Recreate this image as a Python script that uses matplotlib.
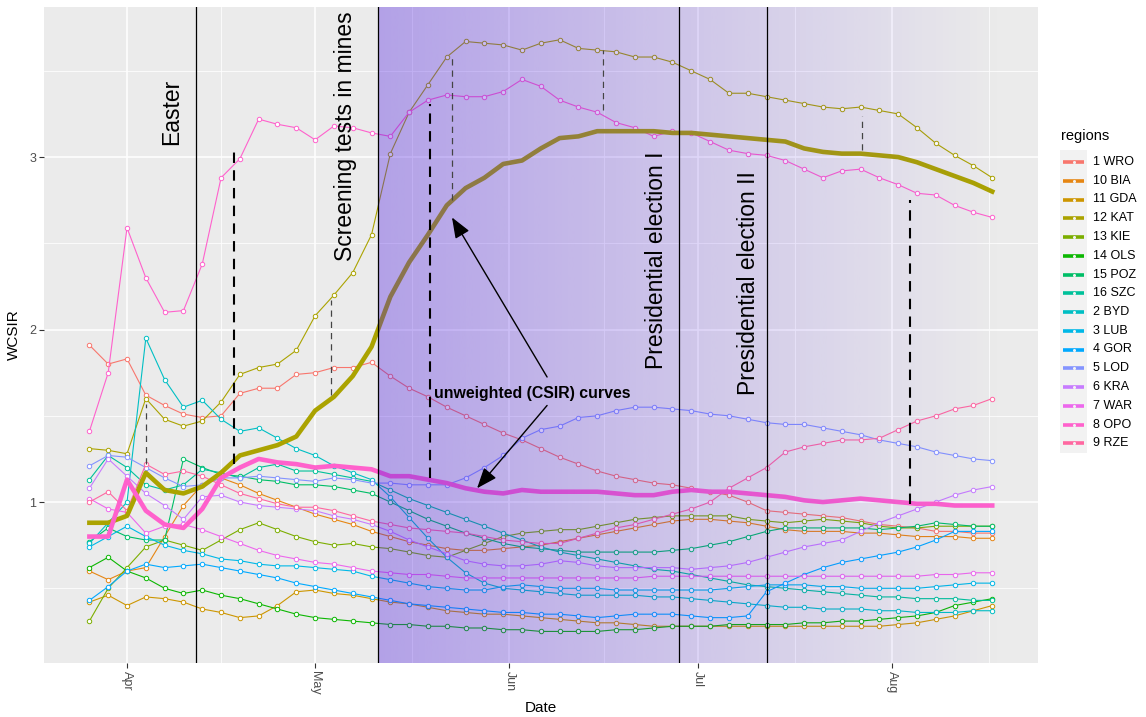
#!/usr/bin/env python3
# WCSIR per region, with the unweighted (CSIR) curves of KAT and OPO
import numpy as np
import pandas as pd
import matplotlib
matplotlib.use('Agg')
import matplotlib.pyplot as plt
import matplotlib.dates as mdates
from matplotlib.patches import Rectangle

plt.rcParams['font.family'] = ['Liberation Sans', 'DejaVu Sans']

# every third day, 26 Mar - 17 Aug 2020
dates = pd.date_range('2020-03-26', '2020-08-17', freq='3D')

WRO = [1.91, 1.80, 1.83, 1.62, 1.56, 1.51, 1.49, 1.50, 1.63, 1.66,
       1.66, 1.74, 1.75, 1.78, 1.78, 1.81, 1.73, 1.66, 1.61, 1.55,
       1.50, 1.45, 1.40, 1.36, 1.31, 1.26, 1.22, 1.18, 1.15, 1.13,
       1.11, 1.10, 1.08, 1.06, 1.04, 1.00, 0.95, 0.94, 0.93, 0.92,
       0.91, 0.89, 0.87, 0.86, 0.85, 0.83, 0.83, 0.82, 0.82]
BIA = [0.60, 0.55, 0.60, 0.62, 0.80, 0.98, 1.10, 1.14, 1.10, 1.05,
       1.01, 0.97, 0.93, 0.90, 0.87, 0.83, 0.80, 0.77, 0.75, 0.73,
       0.72, 0.72, 0.73, 0.74, 0.75, 0.77, 0.79, 0.81, 0.83, 0.85,
       0.87, 0.89, 0.90, 0.90, 0.89, 0.88, 0.86, 0.84, 0.83, 0.83,
       0.83, 0.82, 0.82, 0.81, 0.80, 0.80, 0.80, 0.79, 0.79]
GDA = [0.42, 0.46, 0.40, 0.45, 0.44, 0.42, 0.38, 0.36, 0.33, 0.34,
       0.40, 0.48, 0.49, 0.47, 0.46, 0.44, 0.42, 0.41, 0.39, 0.37,
       0.36, 0.35, 0.35, 0.34, 0.33, 0.32, 0.31, 0.30, 0.30, 0.29,
       0.28, 0.28, 0.28, 0.28, 0.28, 0.28, 0.28, 0.28, 0.28, 0.28,
       0.28, 0.28, 0.28, 0.29, 0.30, 0.32, 0.34, 0.37, 0.40]
KAT = [1.31, 1.30, 1.28, 1.60, 1.48, 1.44, 1.47, 1.58, 1.74, 1.78,
       1.80, 1.88, 2.08, 2.20, 2.33, 2.55, 3.02, 3.26, 3.42, 3.58,
       3.67, 3.66, 3.65, 3.62, 3.66, 3.68, 3.63, 3.62, 3.61, 3.58,
       3.58, 3.55, 3.50, 3.45, 3.37, 3.37, 3.35, 3.33, 3.31, 3.29,
       3.28, 3.29, 3.27, 3.25, 3.17, 3.08, 3.01, 2.95, 2.88]
KIE = [0.31, 0.50, 0.62, 0.74, 0.78, 0.75, 0.72, 0.78, 0.84, 0.88,
       0.84, 0.80, 0.77, 0.75, 0.76, 0.74, 0.73, 0.71, 0.69, 0.68,
       0.72, 0.76, 0.80, 0.82, 0.83, 0.84, 0.84, 0.86, 0.88, 0.90,
       0.91, 0.92, 0.92, 0.92, 0.92, 0.90, 0.89, 0.88, 0.89, 0.90,
       0.89, 0.88, 0.86, 0.85, 0.85, 0.86, 0.86, 0.86, 0.86]
OLS = [0.62, 0.68, 0.60, 0.56, 0.50, 0.47, 0.49, 0.46, 0.44, 0.41,
       0.38, 0.35, 0.33, 0.32, 0.31, 0.30, 0.29, 0.29, 0.28, 0.28,
       0.27, 0.27, 0.26, 0.26, 0.25, 0.25, 0.25, 0.25, 0.26, 0.26,
       0.27, 0.28, 0.28, 0.28, 0.29, 0.29, 0.29, 0.29, 0.30, 0.30,
       0.31, 0.31, 0.32, 0.33, 0.34, 0.36, 0.40, 0.42, 0.44]
POZ = [0.77, 0.85, 0.80, 0.78, 0.78, 1.25, 1.20, 1.16, 1.15, 1.13,
       1.12, 1.10, 1.10, 1.09, 1.07, 1.05, 1.00, 0.95, 0.90, 0.86,
       0.82, 0.79, 0.76, 0.74, 0.73, 0.72, 0.71, 0.71, 0.71, 0.71,
       0.71, 0.72, 0.73, 0.75, 0.77, 0.80, 0.83, 0.85, 0.85, 0.85,
       0.85, 0.85, 0.84, 0.85, 0.86, 0.88, 0.87, 0.86, 0.86]
SZC = [1.13, 1.27, 1.20, 1.10, 1.07, 1.10, 1.19, 1.17, 1.14, 1.20,
       1.22, 1.18, 1.18, 1.16, 1.14, 1.12, 1.07, 1.02, 0.98, 0.94,
       0.90, 0.86, 0.82, 0.78, 0.74, 0.71, 0.69, 0.67, 0.65, 0.63,
       0.61, 0.60, 0.58, 0.56, 0.54, 0.52, 0.51, 0.50, 0.49, 0.48,
       0.47, 0.46, 0.45, 0.45, 0.44, 0.44, 0.44, 0.43, 0.43]
BYD = [0.76, 0.88, 1.00, 1.95, 1.71, 1.55, 1.59, 1.48, 1.41, 1.43,
       1.37, 1.31, 1.27, 1.21, 1.17, 1.13, 1.03, 0.91, 0.79, 0.68,
       0.59, 0.53, 0.50, 0.49, 0.48, 0.47, 0.46, 0.46, 0.46, 0.46,
       0.45, 0.45, 0.44, 0.43, 0.42, 0.41, 0.40, 0.39, 0.39, 0.38,
       0.38, 0.38, 0.37, 0.37, 0.36, 0.36, 0.36, 0.37, 0.37]
LUB = [0.74, 0.80, 0.86, 0.80, 0.75, 0.72, 0.70, 0.67, 0.66, 0.64,
       0.63, 0.63, 0.62, 0.61, 0.60, 0.57, 0.55, 0.53, 0.51, 0.50,
       0.49, 0.49, 0.51, 0.52, 0.51, 0.50, 0.50, 0.50, 0.49, 0.49,
       0.49, 0.49, 0.49, 0.49, 0.50, 0.51, 0.52, 0.52, 0.52, 0.51,
       0.51, 0.50, 0.50, 0.50, 0.50, 0.51, 0.52, 0.53, 0.53]
GOR = [0.43, 0.51, 0.60, 0.64, 0.62, 0.63, 0.64, 0.62, 0.60, 0.58,
       0.56, 0.53, 0.51, 0.49, 0.47, 0.45, 0.43, 0.41, 0.40, 0.39,
       0.38, 0.37, 0.36, 0.36, 0.35, 0.35, 0.34, 0.33, 0.34, 0.35,
       0.35, 0.35, 0.34, 0.33, 0.33, 0.34, 0.48, 0.53, 0.58, 0.62,
       0.65, 0.67, 0.69, 0.71, 0.74, 0.78, 0.83, 0.83, 0.83]
LOD = [1.21, 1.27, 1.26, 1.20, 1.14, 1.09, 1.10, 1.14, 1.14, 1.15,
       1.14, 1.13, 1.12, 1.14, 1.13, 1.11, 1.11, 1.10, 1.10, 1.10,
       1.14, 1.20, 1.27, 1.37, 1.42, 1.44, 1.49, 1.50, 1.53, 1.55,
       1.55, 1.54, 1.53, 1.51, 1.50, 1.48, 1.46, 1.45, 1.45, 1.43,
       1.41, 1.39, 1.36, 1.34, 1.32, 1.29, 1.27, 1.25, 1.24]
KRA = [1.08, 1.25, 1.15, 1.05, 0.98, 0.90, 1.03, 1.04, 1.00, 0.98,
       0.97, 0.96, 0.95, 0.92, 0.90, 0.87, 0.83, 0.78, 0.74, 0.70,
       0.66, 0.64, 0.63, 0.63, 0.64, 0.66, 0.65, 0.63, 0.62, 0.62,
       0.62, 0.62, 0.61, 0.62, 0.63, 0.65, 0.68, 0.71, 0.74, 0.76,
       0.78, 0.83, 0.88, 0.92, 0.96, 1.00, 1.04, 1.07, 1.09]
WAR = [1.02, 0.96, 0.94, 0.82, 0.86, 0.87, 0.84, 0.80, 0.76, 0.72,
       0.69, 0.67, 0.65, 0.64, 0.62, 0.60, 0.59, 0.58, 0.58, 0.57,
       0.56, 0.56, 0.56, 0.56, 0.56, 0.56, 0.56, 0.56, 0.56, 0.56,
       0.57, 0.57, 0.57, 0.57, 0.57, 0.57, 0.57, 0.57, 0.57, 0.57,
       0.57, 0.57, 0.57, 0.57, 0.57, 0.58, 0.58, 0.59, 0.59]
OPO = [1.41, 1.75, 2.59, 2.30, 2.10, 2.11, 2.38, 2.88, 2.99, 3.22,
       3.19, 3.17, 3.10, 3.18, 3.17, 3.14, 3.12, 3.26, 3.33, 3.36,
       3.35, 3.35, 3.38, 3.45, 3.41, 3.33, 3.29, 3.26, 3.20, 3.17,
       3.12, 3.15, 3.14, 3.09, 3.04, 3.02, 3.01, 2.98, 2.93, 2.88,
       2.92, 2.93, 2.88, 2.84, 2.79, 2.78, 2.72, 2.68, 2.65]
RZE = [1.00, 1.06, 0.95, 1.22, 1.16, 1.18, 1.15, 1.10, 1.05, 1.02,
       0.99, 0.97, 0.97, 0.95, 0.92, 0.89, 0.87, 0.85, 0.84, 0.83,
       0.82, 0.80, 0.78, 0.77, 0.76, 0.76, 0.79, 0.82, 0.85, 0.87,
       0.90, 0.93, 0.96, 1.00, 1.08, 1.14, 1.20, 1.29, 1.32, 1.34,
       1.36, 1.36, 1.37, 1.42, 1.47, 1.50, 1.54, 1.56, 1.60]

# unweighted curves
KAT_CSIR = [0.88, 0.88, 0.92, 1.17, 1.07, 1.05, 1.09, 1.17, 1.27, 1.30,
            1.33, 1.38, 1.53, 1.61, 1.73, 1.90, 2.19, 2.39, 2.55, 2.72,
            2.82, 2.88, 2.96, 2.98, 3.05, 3.11, 3.12, 3.15, 3.15, 3.15,
            3.15, 3.14, 3.14, 3.13, 3.12, 3.11, 3.10, 3.09, 3.05, 3.03,
            3.02, 3.02, 3.01, 3.00, 2.97, 2.93, 2.89, 2.85, 2.80]
OPO_CSIR = [0.80, 0.80, 1.13, 0.95, 0.87, 0.85, 0.96, 1.14, 1.20, 1.25,
            1.23, 1.22, 1.20, 1.21, 1.20, 1.19, 1.15, 1.15, 1.13, 1.11,
            1.08, 1.06, 1.05, 1.07, 1.06, 1.06, 1.06, 1.06, 1.05, 1.04,
            1.04, 1.06, 1.07, 1.06, 1.06, 1.05, 1.04, 1.03, 1.01, 1.00,
            1.01, 1.02, 1.01, 1.00, 0.99, 0.99, 0.98, 0.98, 0.98]

regions = ['1 WRO', '10 BIA', '11 GDA', '12 KAT', '13 KIE', '14 OLS', '15 POZ',
           '16 SZC', '2 BYD', '3 LUB', '4 GOR', '5 LOD', '6 KRA', '7 WAR',
           '8 OPO', '9 RZE']
series = [WRO, BIA, GDA, KAT, KIE, OLS, POZ, SZC, BYD, LUB, GOR, LOD, KRA,
          WAR, OPO, RZE]

events = ['2020-04-12', '2020-05-11', '2020-06-28', '2020-07-12']
event_labels = ['Easter', 'Screening tests in mines',
                'Presidential election I', 'Presidential election II']
event_label_y = [3.07, 2.40, 1.77, 1.62]
event_label_gap = [-9, -15, -8, -5]   # points left of the line

# dashed gaps between weighted and unweighted values
gap_dates = ['2020-04-04', '2020-04-18', '2020-05-03 12:00', '2020-05-19 08:00',
             '2020-05-22 20:00', '2020-06-15 22:00', '2020-07-27 05:00',
             '2020-08-03 22:00']
gap_low = [1.22, 1.22, 1.62, 1.14, 2.75, 3.27, 3.04, 0.99]
gap_high = [1.57, 3.03, 2.17, 3.31, 3.60, 3.62, 3.24, 2.75]
gap_bold = [False, True, False, True, False, False, False, True]


def hue_colour(h, c=100.0, l=65.0):
    # ggplot2 hue_pal: polar LUV -> sRGB
    hr = np.deg2rad(h)
    u, v = c * np.cos(hr), c * np.sin(hr)
    xn, yn, zn = 95.047, 100.0, 108.883
    un = 4 * xn / (xn + 15 * yn + 3 * zn)
    vn = 9 * yn / (xn + 15 * yn + 3 * zn)
    y = yn * ((l + 16) / 116) ** 3
    up = u / (13 * l) + un
    vp = v / (13 * l) + vn
    x = y * 9 * up / (4 * vp)
    z = y * (12 - 3 * up - 20 * vp) / (4 * vp)
    m = np.array([[3.2404542, -1.5371385, -0.4985314],
                  [-0.9692660, 1.8760108, 0.0415560],
                  [0.0556434, -0.2040259, 1.0572252]])
    rgb = m @ (np.array([x, y, z]) / 100)
    rgb = np.clip(rgb, 0, 1)
    rgb = np.where(rgb <= 0.0031308, 12.92 * rgb, 1.055 * rgb ** (1 / 2.4) - 0.055)
    return tuple(np.clip(rgb, 0, 1))


colours = [hue_colour(15 + 22.5 * k) for k in range(16)]

fig = plt.figure(figsize=(11.46, 7.17), dpi=100)
ax = fig.add_axes([44 / 1146, 54 / 717, 994 / 1146, 656 / 717])
ax.set_facecolor('#EBEBEB')
for s in ax.spines.values():
    s.set_visible(False)
ax.set_axisbelow(True)

for name, vals, col in zip(regions, series, colours):
    ax.plot(dates, vals, color=col, lw=0.8, marker='o', ms=3.2, mfc='white',
            mec=col, mew=0.7, zorder=2)
ax.plot(dates, KAT_CSIR, color=colours[3], lw=3.3, zorder=3)
ax.plot(dates, OPO_CSIR, color=colours[14], lw=3.3, zorder=3)

d0 = mdates.date2num(pd.Timestamp('2020-03-26'))
xlim = (d0 - 7.24, d0 + 151.3)
ylim = (0.067, 3.87)

# purple shading fading out after the screening tests
g0 = mdates.date2num(pd.Timestamp('2020-05-11'))
g1 = mdates.date2num(pd.Timestamp('2020-08-19'))
grad = np.zeros((1, 256, 4))
grad[..., 0] = 78 / 255
grad[..., 1] = 29 / 255
grad[..., 2] = 226 / 255
grad[..., 3] = np.linspace(0.36, 0.0, 256)
ax.imshow(grad, extent=[g0, g1, ylim[0], ylim[1]], aspect='auto',
          interpolation='bilinear', zorder=4)

for d, lab, yl, gap in zip(events, event_labels, event_label_y, event_label_gap):
    x = mdates.date2num(pd.Timestamp(d))
    ax.axvline(x, color='black', lw=0.9, zorder=5)
    ax.annotate(lab, xy=(x, yl), xytext=(gap, 0), textcoords='offset points',
                rotation=90, ha='right', va='bottom', fontsize=16.5, zorder=6)

for d, lo, hi, b in zip(gap_dates, gap_low, gap_high, gap_bold):
    x = mdates.date2num(pd.Timestamp(d))
    if b:
        ax.plot([x, x], [lo, hi], color='black', lw=1.5, ls=(0, (5, 3.5)), zorder=5)
    else:
        ax.plot([x, x], [lo, hi], color='#444444', lw=0.9, ls=(0, (5, 4)), zorder=5)

tx = mdates.date2num(pd.Timestamp('2020-05-20'))
ax.text(tx, 1.63, 'unweighted (CSIR) curves', fontsize=11.4, fontweight='bold',
        ha='left', va='center', zorder=6)
tail = mdates.date2num(pd.Timestamp('2020-06-07'))
arrow_heads = [(mdates.date2num(pd.Timestamp('2020-05-22 20:00')), 2.65),
               (mdates.date2num(pd.Timestamp('2020-05-26 20:00')), 1.08)]
arrow_tails = [(tail, 1.725), (tail, 1.56)]
for h, t in zip(arrow_heads, arrow_tails):
    ax.annotate('', xy=h, xytext=t, zorder=6,
                arrowprops=dict(arrowstyle='-|>,head_length=0.9,head_width=0.35',
                                color='black', lw=1.0, shrinkA=0, shrinkB=0,
                                mutation_scale=14))

months = pd.date_range('2020-04-01', '2020-09-01', freq='MS')
mnum = mdates.date2num(months)
ax.set_xticks(mnum[:-1])
ax.set_xticklabels(['Apr', 'May', 'Jun', 'Jul', 'Aug'], rotation=-90)
ax.set_xticks((mnum[:-1] + mnum[1:]) / 2, minor=True)
ax.set_yticks([1, 2, 3])
ax.set_yticks([0.5, 1.5, 2.5, 3.5], minor=True)
ax.grid(which='major', color='white', lw=1.1)
ax.grid(which='minor', color='white', lw=0.55)
ax.tick_params(which='major', length=3.5, width=0.8, color='#333333',
               labelcolor='#4D4D4D', labelsize=9, pad=2)
ax.tick_params(which='minor', length=0)
ax.set_xlim(xlim)
ax.set_ylim(ylim)
ax.set_xlabel('Date', fontsize=11, labelpad=5)
ax.set_ylabel('WCSIR', fontsize=11, labelpad=6)

# legend drawn in figure pixels
lax = fig.add_axes([0, 0, 1, 1])
lax.set_xlim(0, 1146)
lax.set_ylim(717, 0)
lax.axis('off')
lax.add_patch(Rectangle((1060, 150), 27, 303, color='#F2F2F2', lw=0))
lax.text(1061, 136, 'regions', fontsize=10.5, va='center', ha='left')
for k, (name, col) in enumerate(zip(regions, colours)):
    y = 162 + 18.75 * k
    lax.plot([1063, 1084], [y, y], color=col, lw=2.6, solid_capstyle='butt')
    lax.plot([1073.5], [y], marker='o', ms=2.2, mfc='#F2F2F2', mec='#F2F2F2', mew=0)
    lax.text(1093, y, name, fontsize=9, va='center', ha='left')

fig.savefig('out.png', dpi=100)
